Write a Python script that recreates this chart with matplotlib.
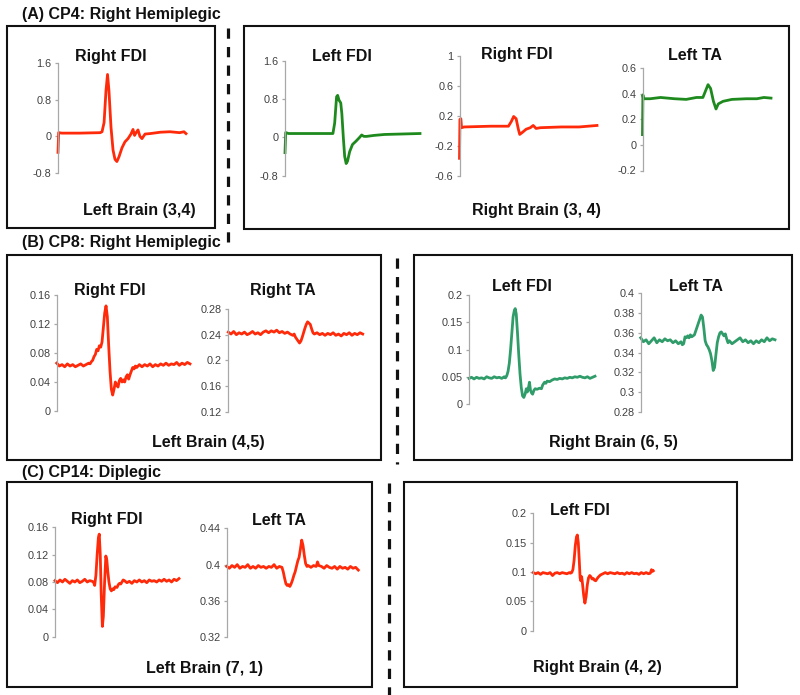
import matplotlib.pyplot as plt
from matplotlib.patches import Rectangle
from matplotlib.lines import Line2D

plt.rcParams["font.family"] = ["Liberation Sans", "DejaVu Sans"]

RED = "#ff2a0a"
GREEN = "#1e8a1e"
SEA = "#2f9c69"

# ---- (A) CP4 ----
a1_t = [0, 0.5, 3, 17, 33, 34.4, 36, 37.5, 38.7, 39.8, 41.4, 43, 44.5, 46, 47.6, 50, 52.3, 54.7, 57, 58.6,
        59.8, 61, 62.5, 64, 65.6, 68, 72, 80, 87.5, 95, 98.4, 100]
a1_v = [-0.35, 0.08, 0.07, 0.07, 0.08, 0.1, 0.3, 1.0, 1.35, 1.0, 0.2, -0.3, -0.5, -0.55, -0.45, -0.25, -0.12, -0.05,
        0.05, 0.15, 0.02, 0.08, 0.14, 0.0, -0.05, 0.05, 0.06, 0.09, 0.1, 0.08, 0.1, 0.06]

a2_lfdi_t = [0, 0.5, 2.6, 21, 35.5, 36.8, 38.2, 39, 40, 41.3, 42.1, 43.2, 44.2, 45.3, 46.3, 47.9, 50, 52.6,
             55.3, 56.8, 58.4, 60.5, 65.8, 73.7, 86.8, 100]
a2_lfdi_v = [-0.32, 0.1, 0.08, 0.08, 0.08, 0.3, 0.85, 0.88, 0.78, 0.72, 0.5, 0.0, -0.4, -0.55, -0.5, -0.3, -0.15,
             -0.08, 0.0, 0.05, 0.02, 0.02, 0.04, 0.06, 0.07, 0.08]

a2_rfdi_t = [0, 0.3, 1, 1.5, 3.4, 22.7, 35.6, 37.6, 39.4, 41.2, 42.8, 43.8, 45.9, 48.5, 51.5, 53.6, 55.7, 58.8,
             74.2, 87, 100]
a2_rfdi_v = [-0.37, 0.15, 0.16, 0.04, 0.05, 0.06, 0.06, 0.12, 0.19, 0.16, 0.02, -0.05, -0.02, 0.02, 0.04, 0.07,
             0.03, 0.04, 0.05, 0.05, 0.07]

a2_lta_t = [0, 0.3, 0.8, 6, 14, 25, 34, 42, 47, 49, 51, 53, 55.2, 57.2, 59, 62.7, 69.6, 80.7, 89, 94.5, 100]
a2_lta_v = [0.08, 0.39, 0.36, 0.36, 0.37, 0.36, 0.355, 0.37, 0.37, 0.42, 0.47, 0.44, 0.34, 0.28, 0.32, 0.34,
            0.355, 0.36, 0.36, 0.37, 0.365]

# ---- (B) CP8 ----
b1_rfdi_t = [0, 2, 4, 6, 8, 10, 12, 14, 16, 18, 20, 22, 24, 25, 26, 27, 28, 29, 30, 31, 32, 33, 34, 35, 36, 37,
             38, 39, 40, 41, 42, 43, 44, 45, 46, 47, 48, 49, 50, 51, 52, 53, 54, 55, 56, 57, 58, 59, 60, 62, 64,
             66, 68, 70, 72, 74, 76, 78, 80, 82, 84, 86, 88, 90, 92, 94, 96, 98, 100]
b1_rfdi_v = [0.066, 0.062, 0.064, 0.061, 0.065, 0.062, 0.064, 0.061, 0.063, 0.065, 0.062, 0.064, 0.066, 0.065,
             0.068, 0.07, 0.075, 0.078, 0.085, 0.083, 0.09, 0.088, 0.095, 0.115, 0.135, 0.145, 0.13, 0.09, 0.055,
             0.03, 0.022, 0.03, 0.04, 0.036, 0.033, 0.042, 0.045, 0.04, 0.043, 0.04, 0.047, 0.05, 0.044, 0.05,
             0.055, 0.06, 0.058, 0.062, 0.06, 0.064, 0.061, 0.064, 0.062, 0.065, 0.061, 0.064, 0.062, 0.065,
             0.063, 0.066, 0.063, 0.065, 0.064, 0.067, 0.063, 0.066, 0.064, 0.067, 0.065]

b1_rta_t = [0, 2, 4, 6, 8, 10, 12, 14, 16, 18, 20, 22, 24, 26, 28, 30, 32, 34, 36, 38, 40, 42, 44, 46, 48, 49,
            50, 51, 52, 53, 54, 55, 56, 57, 58, 59, 60, 61, 62, 63, 64, 66, 68, 70, 72, 74, 76, 78, 80, 82, 84,
            86, 88, 90, 92, 94, 96, 98, 100]
b1_rta_v = [0.244, 0.241, 0.245, 0.240, 0.243, 0.241, 0.244, 0.240, 0.242, 0.245, 0.241, 0.243, 0.240, 0.244,
            0.246, 0.243, 0.246, 0.244, 0.247, 0.243, 0.245, 0.242, 0.244, 0.241, 0.239, 0.241, 0.236, 0.233,
            0.230, 0.227, 0.230, 0.236, 0.243, 0.250, 0.256, 0.260, 0.258, 0.256, 0.249, 0.243, 0.241, 0.243,
            0.240, 0.242, 0.239, 0.242, 0.240, 0.243, 0.239, 0.241, 0.238, 0.242, 0.240, 0.243, 0.239, 0.242,
            0.240, 0.243, 0.241]

b2_lfdi_t = [0, 2, 4, 6, 8, 10, 12, 14, 16, 18, 20, 22, 24, 26, 28, 29, 30, 31, 32, 33, 34, 35, 36, 36.7, 37.5,
             38.5, 39.5, 40.5, 41.5, 42.5, 43.5, 44.5, 45.5, 46.3, 47.2, 48, 48.8, 49.7, 50.5, 51.5, 52.5, 54, 56,
             57.5, 58.5, 60, 61, 62, 64, 66, 68, 70, 72, 74, 76, 78, 80, 82, 84, 86, 88, 90, 92, 94, 96, 98, 100]
b2_lfdi_v = [0.047, 0.049, 0.046, 0.049, 0.047, 0.048, 0.046, 0.050, 0.048, 0.047, 0.050, 0.048, 0.049, 0.047,
             0.050, 0.048, 0.052, 0.06, 0.075, 0.1, 0.13, 0.16, 0.172, 0.175, 0.165, 0.13, 0.09, 0.055, 0.03,
             0.015, 0.012, 0.018, 0.028, 0.022, 0.03, 0.04, 0.025, 0.02, 0.018, 0.025, 0.028, 0.027, 0.029,
             0.028, 0.035, 0.04, 0.038, 0.042, 0.041, 0.044, 0.046, 0.045, 0.047, 0.046, 0.048, 0.047, 0.049,
             0.048, 0.050, 0.049, 0.051, 0.049, 0.048, 0.050, 0.047, 0.049, 0.051]

b2_lta_t = [0, 2, 4, 6, 8, 10, 12, 14, 16, 18, 20, 22, 24, 26, 28, 30, 31, 32, 33, 34, 35, 36, 37, 38, 39, 40,
            41, 42, 43, 44, 45, 46, 47, 48, 49, 50, 51, 52, 53, 54, 55, 56, 57, 58, 59, 60, 61, 62, 63, 64, 65,
            66, 68, 70, 72, 74, 76, 78, 80, 82, 84, 86, 88, 90, 92, 94, 96, 98, 100]
b2_lta_v = [0.355, 0.351, 0.353, 0.349, 0.352, 0.355, 0.350, 0.353, 0.351, 0.354, 0.352, 0.353, 0.350, 0.352,
            0.349, 0.351, 0.348, 0.349, 0.356, 0.355, 0.357, 0.355, 0.358, 0.356, 0.357, 0.358, 0.362, 0.366,
            0.370, 0.374, 0.378, 0.376, 0.365, 0.352, 0.348, 0.346, 0.343, 0.339, 0.332, 0.322, 0.325, 0.338,
            0.350, 0.356, 0.360, 0.361, 0.359, 0.357, 0.359, 0.354, 0.350, 0.352, 0.349, 0.351, 0.353, 0.355,
            0.351, 0.353, 0.350, 0.352, 0.349, 0.352, 0.350, 0.353, 0.351, 0.355, 0.352, 0.354, 0.353]

# ---- (C) CP14 ----
c1_rfdi_t = [0, 2, 4, 6, 8, 10, 12, 14, 16, 18, 20, 22, 24, 26, 28, 30, 31, 32, 33, 34, 35, 35.7, 36.5, 37.3,
             38.2, 39, 40, 41, 41.8, 42.6, 43.5, 44.5, 45.5, 46.5, 47.5, 48.5, 50, 51, 52, 53, 54, 55, 56, 58,
             60, 62, 64, 66, 68, 70, 72, 74, 76, 78, 80, 82, 84, 86, 88, 90, 92, 94, 96, 98, 100]
c1_rfdi_v = [0.082, 0.079, 0.083, 0.080, 0.084, 0.081, 0.078, 0.082, 0.080, 0.083, 0.079, 0.081, 0.084, 0.080,
             0.082, 0.081, 0.080, 0.075, 0.09, 0.12, 0.145, 0.15, 0.12, 0.06, 0.015, 0.03, 0.08, 0.118, 0.112,
             0.095, 0.08, 0.07, 0.067, 0.07, 0.069, 0.073, 0.072, 0.076, 0.078, 0.077, 0.08, 0.083, 0.082,
             0.079, 0.081, 0.078, 0.082, 0.080, 0.083, 0.080, 0.082, 0.079, 0.083, 0.081, 0.082, 0.080, 0.083,
             0.081, 0.084, 0.081, 0.083, 0.080, 0.084, 0.082, 0.085]

c1_lta_t = [0, 2, 4, 6, 8, 10, 12, 14, 16, 18, 20, 22, 24, 26, 28, 30, 32, 34, 36, 38, 40, 42, 43, 44, 45, 46,
            47, 48, 49, 50, 51, 52, 53, 54, 55, 56, 57, 58, 59, 60, 61, 62, 64, 66, 68, 69, 70, 72, 74, 76, 78,
            80, 82, 84, 86, 88, 90, 92, 94, 96, 98, 100]
c1_lta_v = [0.398, 0.396, 0.399, 0.397, 0.400, 0.396, 0.398, 0.397, 0.400, 0.396, 0.398, 0.396, 0.399, 0.397,
            0.398, 0.396, 0.398, 0.397, 0.400, 0.396, 0.398, 0.397, 0.392, 0.385, 0.379, 0.377, 0.378, 0.376,
            0.379, 0.383, 0.388, 0.392, 0.398, 0.404, 0.408, 0.417, 0.427, 0.421, 0.41, 0.401, 0.398, 0.399,
            0.397, 0.399, 0.398, 0.403, 0.399, 0.398, 0.396, 0.399, 0.397, 0.396, 0.398, 0.395, 0.398, 0.396,
            0.397, 0.395, 0.398, 0.396, 0.397, 0.394]

c2_lfdi_t = [0, 2, 4, 6, 8, 10, 12, 14, 16, 18, 20, 22, 24, 26, 28, 30, 31, 32, 33, 34, 35, 36, 36.7, 37.5,
             38.3, 39, 39.6, 40.3, 41, 42, 43, 44, 45, 46, 47, 48, 49, 50, 51, 52, 53, 54, 55, 56, 58, 60, 62,
             64, 66, 68, 70, 72, 74, 76, 78, 80, 82, 84, 86, 88, 90, 92, 94, 96, 97.5, 98.5, 99.3, 100]
c2_lfdi_v = [0.099, 0.097, 0.099, 0.096, 0.099, 0.098, 0.097, 0.099, 0.094, 0.098, 0.099, 0.097, 0.099, 0.098,
             0.097, 0.099, 0.098, 0.099, 0.104, 0.12, 0.145, 0.16, 0.163, 0.15, 0.12, 0.09, 0.085, 0.092, 0.08,
             0.06, 0.047, 0.058, 0.078, 0.09, 0.094, 0.092, 0.088, 0.089, 0.086, 0.085, 0.088, 0.091, 0.093,
             0.095, 0.097, 0.099, 0.097, 0.099, 0.098, 0.097, 0.099, 0.097, 0.098, 0.096, 0.099, 0.097, 0.099,
             0.097, 0.098, 0.096, 0.099, 0.097, 0.099, 0.097, 0.098, 0.104, 0.101, 0.102]

W, H = 800, 695
fig = plt.figure(figsize=(8, 6.95), dpi=100)


def emg_axes(x0, x1, ytop, ybot, t, v, ticks, labels, color):
    # positions given in pixels of the 800x695 canvas
    ax = fig.add_axes([x0 / W, 1 - ybot / H, (x1 - x0) / W, (ybot - ytop) / H])
    ax.plot(t, v, color=color, lw=2.0, clip_on=False, solid_joinstyle="round")
    ax.set_xlim(0, 100)
    ax.set_ylim(ticks[0], ticks[-1])
    ax.set_yticks(ticks, labels)
    ax.set_xticks([])
    for s in ["top", "right", "bottom"]:
        ax.spines[s].set_visible(False)
    ax.spines["left"].set_color("#a8a8a8")
    ax.spines["left"].set_linewidth(0.9)
    ax.tick_params(axis="y", length=2.5, width=0.9, color="#a8a8a8", labelsize=7.8,
                   labelcolor="#404040", pad=2)
    ax.patch.set_visible(False)
    return ax


def label(x, y, s, ha="center", size=11.5):
    fig.text(x / W, 1 - y / H, s, ha=ha, va="center", fontsize=size, fontweight="bold", color="#111111")


def box(x0, y0, x1, y1):
    fig.add_artist(Rectangle((x0 / W, 1 - y1 / H), (x1 - x0) / W, (y1 - y0) / H,
                             transform=fig.transFigure, fill=False, lw=1.5, ec="#111111"))


def dash(x, y0, y1):
    fig.add_artist(Line2D([x / W, x / W], [1 - y0 / H, 1 - y1 / H], transform=fig.transFigure,
                          color="#111111", lw=2.3, linestyle=(0, (3.2, 2.6))))


# frames
box(7, 26, 215, 228)
box(244, 26, 789, 229)
box(7, 255, 381, 460)
box(414, 255, 792, 460)
box(7, 482, 372, 687)
box(404, 482, 737, 687)
dash(228, 28, 242)
dash(397, 258, 464)
dash(389, 483, 695)

label(22, 15, "(A) CP4: Right Hemiplegic", ha="left")
label(22, 243, "(B) CP8: Right Hemiplegic", ha="left")
label(22, 473, "(C) CP14: Diplegic", ha="left")

# (A)
emg_axes(58, 186, 63, 173, a1_t, a1_v, [-0.8, 0, 0.8, 1.6], ["-0.8", "0", "0.8", "1.6"], RED)
emg_axes(285, 420, 61, 175.5, a2_lfdi_t, a2_lfdi_v, [-0.8, 0, 0.8, 1.6], ["-0.8", "0", "0.8", "1.6"], GREEN)
emg_axes(459.5, 597, 56, 175.5, a2_rfdi_t, a2_rfdi_v, [-0.6, -0.2, 0.2, 0.6, 1.0],
         ["-0.6", "-0.2", "0.2", "0.6", "1"], RED)
emg_axes(642.5, 771, 68, 170.5, a2_lta_t, a2_lta_v, [-0.2, 0, 0.2, 0.4, 0.6],
         ["-0.2", "0", "0.2", "0.4", "0.6"], GREEN)
label(111, 57, "Right FDI")
label(341.6, 56.7, "Left FDI")
label(517, 55, "Right FDI")
label(695, 55, "Left TA")
label(139, 210, "Left Brain (3,4)")
label(536, 210.6, "Right Brain (3, 4)")

# (B)
emg_axes(56.7, 190, 295, 411, b1_rfdi_t, b1_rfdi_v, [0, 0.04, 0.08, 0.12, 0.16],
         ["0", "0.04", "0.08", "0.12", "0.16"], RED)
emg_axes(228.3, 362.7, 309, 411.7, b1_rta_t, b1_rta_v, [0.12, 0.16, 0.2, 0.24, 0.28],
         ["0.12", "0.16", "0.2", "0.24", "0.28"], RED)
emg_axes(469, 595, 295, 404, b2_lfdi_t, b2_lfdi_v, [0, 0.05, 0.1, 0.15, 0.2],
         ["0", "0.05", "0.1", "0.15", "0.2"], SEA)
emg_axes(640.7, 775, 293.3, 412, b2_lta_t, b2_lta_v, [0.28, 0.3, 0.32, 0.34, 0.36, 0.38, 0.4],
         ["0.28", "0.3", "0.32", "0.34", "0.36", "0.38", "0.4"], SEA)
label(110, 291, "Right FDI")
label(282.7, 291, "Right TA")
label(521.7, 286.7, "Left FDI")
label(696, 286.7, "Left TA")
label(208, 443, "Left Brain (4,5)")
label(613, 443, "Right Brain (6, 5)")

# (C)
emg_axes(55, 179, 527.3, 636.7, c1_rfdi_t, c1_rfdi_v, [0, 0.04, 0.08, 0.12, 0.16],
         ["0", "0.04", "0.08", "0.12", "0.16"], RED)
emg_axes(226.7, 358.3, 528.3, 637.3, c1_lta_t, c1_lta_v, [0.32, 0.36, 0.4, 0.44],
         ["0.32", "0.36", "0.4", "0.44"], RED)
emg_axes(533.3, 653.3, 513.3, 630.7, c2_lfdi_t, c2_lfdi_v, [0, 0.05, 0.1, 0.15, 0.2],
         ["0", "0.05", "0.1", "0.15", "0.2"], RED)
label(106.7, 519.3, "Right FDI")
label(279.3, 520.7, "Left TA")
label(580, 510.7, "Left FDI")
label(204.3, 668.3, "Left Brain (7, 1)")
label(597.3, 667.3, "Right Brain (4, 2)")

fig.savefig("out.png", dpi=100)
